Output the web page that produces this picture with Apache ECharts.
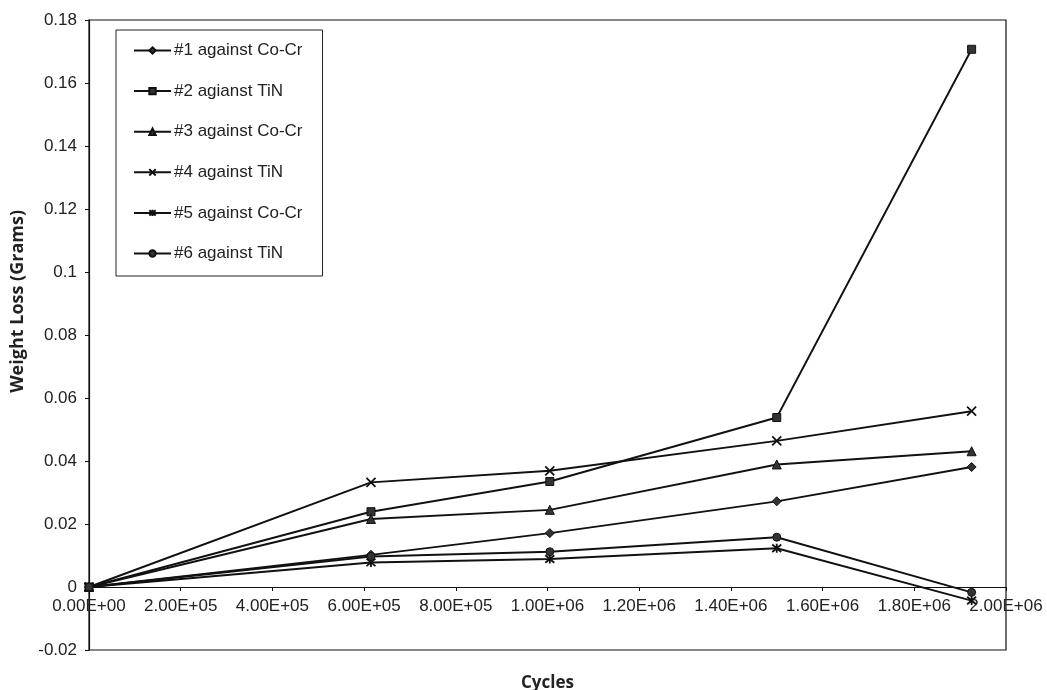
<!DOCTYPE html>
<html>
<head>
<meta charset="utf-8">
<script src="https://cdn.jsdelivr.net/npm/echarts@6/dist/echarts.min.js"></script>
<style>
  html, body { margin: 0; padding: 0; background: #fff; }
  #chart { width: 1047px; height: 690px; }
</style>
</head>
<body>
<div id="chart"></div>
<script>
// Test cycles at which each specimen was weighed
const cycles = [0, 615000, 1005000, 1500000, 1925000];

// Weight loss (g) per specimen
const s1 = [0, 0.0102, 0.0171, 0.0272, 0.0381];
const s2 = [0, 0.0239, 0.0335, 0.0538, 0.1707];
const s3 = [0, 0.0216, 0.0245, 0.0389, 0.0431];
const s4 = [0, 0.0332, 0.0369, 0.0464, 0.0558];
const s5 = [0, 0.0078, 0.0089, 0.0123, -0.0043];
const s6 = [0, 0.0097, 0.0112, 0.0158, -0.0017];

const seriesNames = [
  '#1 against Co-Cr',
  '#2 agianst TiN',
  '#3 against Co-Cr',
  '#4 against TiN',
  '#5 against Co-Cr',
  '#6 against TiN'
];

const crossPath = 'path://M0,0L10,10M10,0L0,10';
const starPath = 'path://M0,0L10,10M10,0L0,10M5,-1L5,11';

const markers = [
  { symbol: 'diamond', size: 9 },
  { symbol: 'rect', size: 8 },
  { symbol: 'triangle', size: 9 },
  { symbol: crossPath, size: 9 },
  { symbol: starPath, size: 9 },
  { symbol: 'circle', size: 8 }
];

const values = [s1, s2, s3, s4, s5, s6];

function pairs(ys) {
  return cycles.map((c, i) => [c, ys[i]]);
}

const chart = echarts.init(document.getElementById('chart'), null, { renderer: 'canvas' });

const series = values.map((ys, k) => ({
  name: seriesNames[k],
  type: 'line',
  data: pairs(ys),
  symbol: markers[k].symbol,
  symbolSize: markers[k].size,
  showAllSymbol: true,
  lineStyle: { color: '#111', width: 1.9 },
  itemStyle: {
    color: '#333',
    borderColor: '#111',
    borderWidth: (k === 3 || k === 4) ? 1.8 : 1
  },
  emphasis: { disabled: true },
  animation: false,
  z: 3
}));

const fmtExp = v => {
  const [m, e] = v.toExponential(2).toUpperCase().split('E');
  const sign = e[0] === '-' ? '-' : '+';
  const d = e.replace(/[+-]/, '');
  return m + 'E' + sign + (d.length < 2 ? '0' + d : d);
};

const labelFont = 'Liberation Sans, Arial, sans-serif';
const titleFont = 'Open Sans, DejaVu Sans, sans-serif';

// plot box geometry
const gridTop = 20, gridBottom = 40, chartH = 690;
const yMin = -0.02, yMax = 0.18, yStep = 0.02;
// lift the category axis from the bottom edge up to the zero line
const zeroLift = (chartH - gridTop - gridBottom) * (0 - yMin) / (yMax - yMin);

chart.setOption({
  backgroundColor: '#fff',
  animation: false,
  textStyle: { fontFamily: labelFont },
  grid: {
    left: 89, right: 41, top: gridTop, bottom: gridBottom,
    outerBoundsMode: 'none',
    containLabel: false,
    show: true, borderColor: '#111', borderWidth: 1.2, backgroundColor: '#fff'
  },
  legend: {
    orient: 'vertical',
    left: 116, top: 30,
    padding: [12, 20, 14, 17],
    itemWidth: 37, itemHeight: 8, itemGap: 23.6,
    borderColor: '#222', borderWidth: 1,
    backgroundColor: '#fff',
    textStyle: { fontSize: 17, color: '#222', fontFamily: labelFont, padding: [0, 0, 0, -2] },
    data: seriesNames
  },
  graphic: [
    {
      type: 'text',
      left: 9, top: 210,
      rotation: Math.PI / 2,
      style: {
        text: 'Weight Loss (Grams)',
        font: 'bold 18px ' + titleFont,
        fill: '#222'
      }
    }
  ],
  xAxis: {
    type: 'value',
    min: 0, max: 2000000, interval: 200000,
    position: 'bottom',
    offset: -zeroLift,
    name: 'Cycles',
    nameLocation: 'middle',
    nameGap: 88,
    nameTextStyle: { fontSize: 17, fontWeight: 'bold', color: '#222', fontFamily: titleFont },
    axisLine: { onZero: false, lineStyle: { color: '#111', width: 1.2 } },
    axisTick: { show: true, length: 4, inside: false, lineStyle: { color: '#111' } },
    axisLabel: { formatter: fmtExp, fontSize: 17, color: '#222', margin: 11 },
    splitLine: { show: false }
  },
  yAxis: {
    type: 'value',
    min: yMin, max: yMax, interval: yStep,
    axisLine: { show: true, lineStyle: { color: '#111', width: 1.2 } },
    axisTick: { show: true, length: 4, lineStyle: { color: '#111' } },
    axisLabel: {
      formatter: v => String(parseFloat(v.toFixed(2))),
      fontSize: 17, color: '#222', margin: 12
    },
    splitLine: { show: false }
  },
  series: series
});
</script>
</body>
</html>
